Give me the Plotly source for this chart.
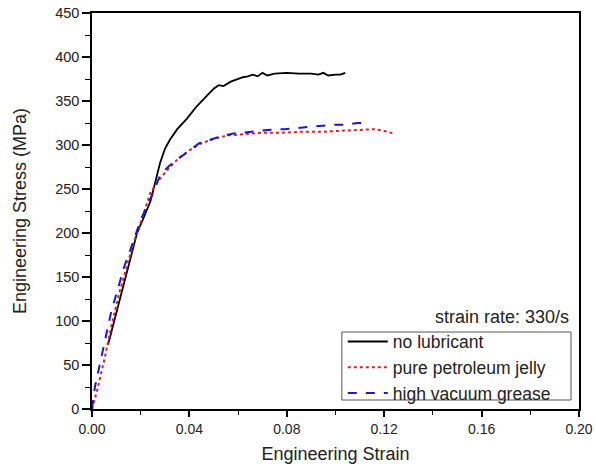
import plotly.graph_objects as go

# No lubricant
strain_none = [0.0066, 0.009, 0.012, 0.015, 0.0185, 0.021, 0.024, 0.026, 0.028, 0.030, 0.032,
               0.035, 0.039, 0.043, 0.047, 0.050, 0.052, 0.054, 0.057, 0.060, 0.062, 0.064,
               0.066, 0.068, 0.070, 0.072, 0.075, 0.080, 0.085, 0.090, 0.093, 0.095, 0.097,
               0.100, 0.102, 0.104]
stress_none = [73, 99, 130, 163, 200, 216, 236, 258, 280, 296, 306,
               318, 330, 344, 356, 364, 368, 367, 372, 375, 377, 378,
               380, 378, 382, 379, 381, 382, 381, 381, 380, 382, 379,
               380, 380, 382]

# Pure petroleum jelly
strain_jelly = [0, 0.002, 0.005, 0.008, 0.011, 0.014, 0.017, 0.020, 0.024, 0.028, 0.032,
                0.036, 0.040, 0.045, 0.050, 0.056, 0.062, 0.070, 0.078, 0.086, 0.094,
                0.102, 0.110, 0.116, 0.120, 0.124]
stress_jelly = [0, 20, 55, 95, 130, 160, 188, 212, 246, 262, 275,
                286, 294, 302, 307, 311, 312, 314, 314, 315, 315,
                316, 317, 318, 316, 313]

# High vacuum grease
strain_grease = [0, 0.0012, 0.003, 0.0045, 0.006, 0.008, 0.0107, 0.013, 0.016, 0.0185, 0.020,
                 0.025, 0.028, 0.032, 0.036, 0.040, 0.044, 0.0486, 0.053, 0.058, 0.065,
                 0.072, 0.079, 0.086, 0.092, 0.099, 0.104, 0.109, 0.112, 0.114]
stress_grease = [0, 25, 48, 67, 88, 112, 137, 160, 183, 203, 215,
                 245, 266, 277, 285, 293, 302, 306, 310, 313, 315,
                 317, 318, 320, 321, 323, 323, 325, 325, 327]

x_ticks = [0.00, 0.04, 0.08, 0.12, 0.16, 0.20]
y_ticks = [0, 50, 100, 150, 200, 250, 300, 350, 400, 450]

FONT = "Liberation Sans, Arial, sans-serif"

fig = go.Figure()
fig.add_trace(go.Scatter(x=strain_none, y=stress_none, mode="lines", name="no lubricant",
                         line=dict(color="black", width=1.8)))
fig.add_trace(go.Scatter(x=strain_jelly, y=stress_jelly, mode="lines", name="pure petroleum jelly",
                         line=dict(color="#e02020", width=2, dash="dot")))
fig.add_trace(go.Scatter(x=strain_grease, y=stress_grease, mode="lines", name="high vacuum grease",
                         line=dict(color="#1a1acc", width=2, dash="dash")))

fig.update_layout(
    width=596, height=472,
    margin=dict(l=92, r=17, t=13, b=63, autoexpand=False),
    paper_bgcolor="white", plot_bgcolor="white",
    font=dict(family=FONT, color="#222222"),
    showlegend=True,
    legend=dict(x=0.515, y=0.2156, xanchor="left", yanchor="top",
                borderwidth=0, bgcolor="rgba(0,0,0,0)",
                font=dict(size=17.5, family=FONT, color="#222222"),
                tracegroupgap=0, itemwidth=40),
    shapes=[dict(type="rect", xref="paper", yref="paper",
                 x0=0.513, x1=0.9836, y0=0.0227, y1=0.1944,
                 line=dict(color="#555555", width=1), fillcolor="white", layer="above")],
    annotations=[dict(text="strain rate: 330/s", xref="paper", yref="paper",
                      x=0.983, y=0.232, xanchor="right", yanchor="middle",
                      showarrow=False, font=dict(size=18, family=FONT, color="#222222"))],
)

fig.update_xaxes(
    range=[0, 0.2], tickvals=x_ticks, tickformat=".2f", automargin=False,
    showline=True, linecolor="black", linewidth=1.5, mirror=True,
    ticks="outside", ticklen=6, tickwidth=1.5, tickcolor="black",
    minor=dict(dtick=0.02, ticks="outside", ticklen=4, tickwidth=1.2, tickcolor="black"),
    showgrid=False, zeroline=False,
    tickfont=dict(size=14, family=FONT, color="#222222"),
    title=dict(text="Engineering Strain", font=dict(size=18, family=FONT, color="#222222"), standoff=12),
)
fig.update_yaxes(
    range=[0, 450], tickvals=y_ticks, automargin=False,
    showline=True, linecolor="black", linewidth=1.5, mirror=True,
    ticks="outside", ticklen=8, tickwidth=1.5, tickcolor="black",
    minor=dict(dtick=25, ticks="outside", ticklen=5, tickwidth=1.2, tickcolor="black"),
    showgrid=False, zeroline=False,
    tickfont=dict(size=14.5, family=FONT, color="#222222"),
    title=dict(text="Engineering Stress (MPa)", font=dict(size=18, family=FONT, color="#222222"), standoff=24),
)

fig.write_html("out.html")
